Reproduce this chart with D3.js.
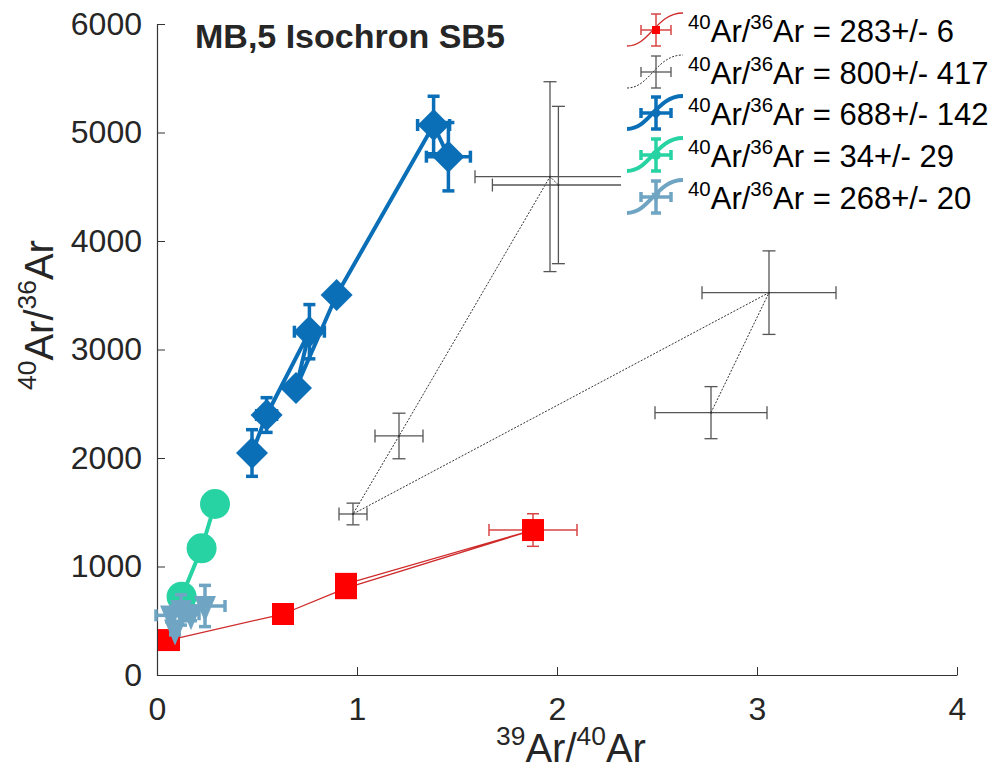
<!DOCTYPE html>
<html>
<head>
<meta charset="utf-8">
<script src="https://cdn.jsdelivr.net/npm/d3@7"></script>
<style>
body { margin: 0; background: #fff; }
text { font-family: "Liberation Sans", Arial, sans-serif; fill: #262626; }
</style>
</head>
<body>
<div id="chart"></div>
<script>
// MB,5 isochron SB5
var redX    = [0.06, 0.63, 0.945, 1.88, 0.945];
var redY    = [322, 562, 800, 1336, 840];
var redXErr = [0.01, 0.01, 0.03, 0.22, 0.03];
var redYErr = [15, 20, 40, 150, 50];

var greyX    = [2.77, 3.06, 0.98, 1.21, 1.965, 2.007];
var greyY    = [2418, 3524, 1484, 2203, 4593, 4516];
var greyXErr = [0.28, 0.335, 0.07, 0.12, 0.375, 0.33];
var greyYErr = [240, 385, 100, 210, 875, 725];

var blueX    = [0.475, 0.548, 0.762, 0.695, 0.898, 1.383, 1.457];
var blueY    = [2046, 2396, 3164, 2645, 3502, 5069, 4777];
var blueXErr = [0.03, 0.05, 0.075, 0.03, 0.03, 0.08, 0.11];
var blueYErr = [215, 160, 250, 60, 60, 265, 315];

var greenX    = [0.123, 0.223, 0.29];
var greenY    = [722, 1168, 1576];
var greenXErr = [0, 0, 0];
var greenYErr = [0, 0, 0];

var lbX    = [0.09, 0.07, 0.12, 0.17, 0.24];
var lbY    = [420, 550, 600, 560, 636];
var lbXErr = [0.02, 0.075, 0.05, 0.04, 0.1];
var lbYErr = [50, 60, 140, 60, 190];

var legendLabels = [
    ["40", "Ar/", "36", "Ar = 283+/- 6"],
    ["40", "Ar/", "36", "Ar = 800+/- 417"],
    ["40", "Ar/", "36", "Ar = 688+/- 142"],
    ["40", "Ar/", "36", "Ar = 34+/- 29"],
    ["40", "Ar/", "36", "Ar = 268+/- 20"]
];

var xTicks = [0, 1, 2, 3, 4];
var yTicks = [0, 1000, 2000, 3000, 4000, 5000, 6000];

var series = [
    { x: redX, y: redY, xe: redXErr, ye: redYErr, line: "#cf2a2a", lw: 1.3, dash: null,
      err: "#d84545", ew: 1.5, cap: 12, marker: "square", fill: "#ff0000", size: 22 },
    { x: greyX, y: greyY, xe: greyXErr, ye: greyYErr, line: "#333", lw: 1, dash: "2,1.5",
      err: "#555", ew: 1.3, cap: 13, marker: "none", fill: "#333", size: 2 },
    { x: blueX, y: blueY, xe: blueXErr, ye: blueYErr, line: "#0b6fb8", lw: 4, dash: null,
      err: "#0b6fb8", ew: 3.5, cap: 12, marker: "diamond", fill: "#0b6fb8", size: 16 },
    { x: greenX, y: greenY, xe: greenXErr, ye: greenYErr, line: "#27d3a2", lw: 4, dash: null,
      err: "#27d3a2", ew: 3.5, cap: 12, marker: "circle", fill: "#27d3a2", size: 15 },
    { x: lbX, y: lbY, xe: lbXErr, ye: lbYErr, line: "#6fa5c3", lw: 4, dash: null,
      err: "#6fa5c3", ew: 3.5, cap: 12, marker: "triangle", fill: "#6fa5c3", size: 26 }
];

var W = 998, H = 769;
var svg = d3.select("#chart").append("svg").attr("width", W).attr("height", H);

var x = d3.scaleLinear().domain([0, 4]).range([157, 957]);
var y = d3.scaleLinear().domain([0, 6000]).range([675, 24]);

function markerPath(type, s) {
    if (type == "square") return "M" + (-s/2) + "," + (-s/2) + "h" + s + "v" + s + "h" + (-s) + "Z";
    if (type == "diamond") return "M0," + (-s) + "L" + s + ",0L0," + s + "L" + (-s) + ",0Z";
    if (type == "triangle") return "M" + (-s*0.42) + "," + (-s*0.38) + "L" + (s*0.42) + "," + (-s*0.38) + "L0," + (s*0.62) + "Z";
    if (type == "circle") return "M" + s + ",0A" + s + "," + s + " 0 1,1 " + (-s) + ",0A" + s + "," + s + " 0 1,1 " + s + ",0Z";
    return "M-1,0A1,1 0 1,1 1,0A1,1 0 1,1 -1,0Z";
}

function drawErr(g, cx, cy, hx0, hx1, vy0, vy1, s) {
    var c = s.cap / 2;
    var e = g.append("g").attr("stroke", s.err).attr("stroke-width", s.ew).attr("fill", "none");
    if (vy0 != vy1) {
        e.append("line").attr("x1", cx).attr("x2", cx).attr("y1", vy0).attr("y2", vy1);
        e.append("line").attr("x1", cx - c).attr("x2", cx + c).attr("y1", vy0).attr("y2", vy0);
        e.append("line").attr("x1", cx - c).attr("x2", cx + c).attr("y1", vy1).attr("y2", vy1);
    }
    if (hx0 != hx1) {
        e.append("line").attr("x1", hx0).attr("x2", hx1).attr("y1", cy).attr("y2", cy);
        e.append("line").attr("x1", hx0).attr("x2", hx0).attr("y1", cy - c).attr("y2", cy + c);
        e.append("line").attr("x1", hx1).attr("x2", hx1).attr("y1", cy - c).attr("y2", cy + c);
    }
}

// axes (MATLAB style, ticks inside, no box)
var yAxis = svg.append("g").attr("transform", "translate(157,0)")
    .call(d3.axisLeft(y).tickValues(yTicks).tickSizeInner(-8).tickSizeOuter(0).tickPadding(15).tickFormat(d3.format("d")));
var xAxis = svg.append("g").attr("transform", "translate(0,675)")
    .call(d3.axisBottom(x).tickValues(xTicks).tickSizeInner(-8).tickSizeOuter(0).tickPadding(22).tickFormat(d3.format("d")));
[xAxis, yAxis].forEach(function(a) {
    a.select(".domain").attr("stroke", "#333").attr("stroke-width", 1.2);
    a.selectAll(".tick line").attr("stroke", "#333").attr("stroke-width", 1);
    a.selectAll(".tick text").attr("font-size", 32).attr("fill", "#262626")
        .style("font-family", "'Liberation Sans', Arial, sans-serif");
});

// series
var plot = svg.append("g");
series.forEach(function(s) {
    var g = plot.append("g");
    var pts = s.x.map(function(v, i) { return [x(v), y(s.y[i])]; });
    g.append("path").attr("d", d3.line()(pts)).attr("fill", "none")
        .attr("stroke", s.line).attr("stroke-width", s.lw)
        .attr("stroke-dasharray", s.dash).attr("stroke-linejoin", "round");
    s.x.forEach(function(v, i) {
        drawErr(g, x(v), y(s.y[i]), x(v - s.xe[i]), x(v + s.xe[i]),
            y(s.y[i] + s.ye[i]), y(s.y[i] - s.ye[i]), s);
    });
    g.selectAll(".mk").data(pts).enter().append("path")
        .attr("transform", function(d) { return "translate(" + d[0] + "," + d[1] + ")"; })
        .attr("d", markerPath(s.marker, s.size)).attr("fill", s.fill);
});

function richText(g, tx, ty, parts, size, anchor) {
    var t = g.append("text").attr("x", tx).attr("y", ty)
        .attr("font-size", size).attr("text-anchor", anchor);
    var shift = 0;
    parts.forEach(function(p, i) {
        var sup = (i % 2 == 0);
        var target = sup ? -size * 0.42 : 0;
        t.append("tspan").attr("dy", target - shift)
            .attr("font-size", sup ? size * 0.66 : size).text(p);
        shift = target;
    });
    return t;
}

// title
svg.append("text").attr("x", 195).attr("y", 48).attr("font-size", 34)
    .attr("font-weight", "bold").attr("fill", "#000").text("MB,5 Isochron SB5");

// axis labels
richText(svg, 571, 762, ["39", "Ar/", "40", "Ar"], 40, "middle");
richText(svg.append("g").attr("transform", "translate(53,315) rotate(-90)"), 0, 0,
    ["40", "Ar/", "36", "Ar"], 40, "middle");

// legend
var leg = svg.append("g");
leg.append("rect").attr("x", 621).attr("y", 0).attr("width", 377).attr("height", 228).attr("fill", "#fff");
var legY = [30, 72, 113, 155, 197];
series.forEach(function(s, i) {
    var cy = legY[i], cx = 656;
    var g = leg.append("g");
    g.append("path").attr("d", "M627," + (cy + 16) + "C650," + (cy + 16) + " 656," + (cy - 17) + " 683," + (cy - 17))
        .attr("fill", "none").attr("stroke", s.line).attr("stroke-width", s.lw)
        .attr("stroke-dasharray", s.dash);
    drawErr(g, cx, cy, cx - 15, cx + 15, cy - 16, cy + 16, { err: s.err, ew: s.ew, cap: 10 });
    if (s.marker != "none") {
        var sz = { square: 8, diamond: 6, circle: 5, triangle: 11 }[s.marker];
        g.append("path").attr("transform", "translate(" + cx + "," + cy + ")")
            .attr("d", markerPath(s.marker, sz)).attr("fill", s.fill);
    }
    richText(leg, 688, cy + 12, legendLabels[i], 31, "start").selectAll("tspan").attr("fill", "#000");
});
</script>
</body>
</html>
